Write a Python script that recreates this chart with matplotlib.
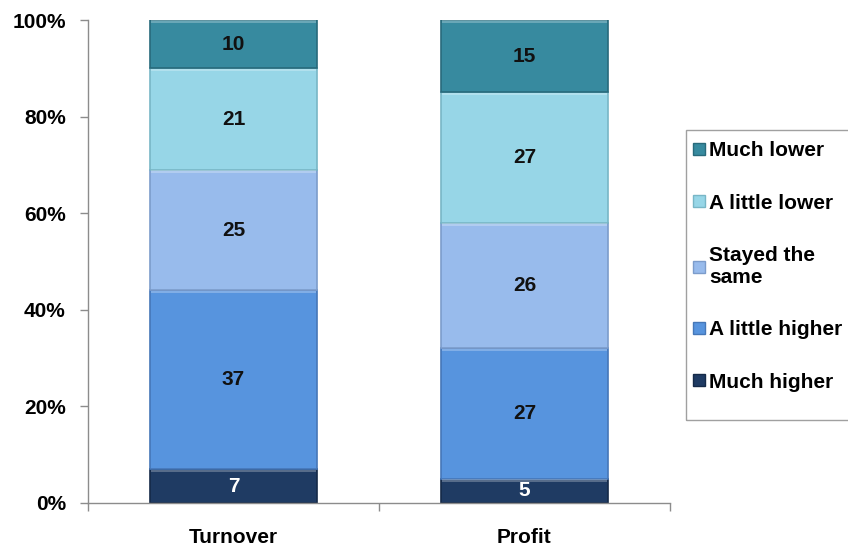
import matplotlib
matplotlib.use("Agg")
import matplotlib.pyplot as plt
from matplotlib.lines import Line2D
from matplotlib.patches import Rectangle
from matplotlib.ticker import FuncFormatter, FixedLocator

plt.rcParams['font.family'] = ['Liberation Sans', 'DejaVu Sans']

categories = ["Turnover", "Profit"]
series_names = ["Much higher", "A little higher", "Stayed the same", "A little lower", "Much lower"]
much_higher = [7, 5]
little_higher = [37, 27]
stayed_same = [25, 26]
little_lower = [21, 27]
much_lower = [10, 15]

values = [much_higher, little_higher, stayed_same, little_lower, much_lower]
colors = ["#1F3B63", "#5794DE", "#98BBEC", "#97D6E7", "#378A9F"]
edge_colors = ["#152A48", "#4577B8", "#7C9CCB", "#78B6C6", "#286A7B"]
text_colors = ["white", "#111111", "#111111", "#111111", "#111111"]
legend_labels = ["Much lower", "A little lower", "Stayed the\nsame", "A little higher", "Much higher"]

FS = 15

fig = plt.figure(figsize=(8.48, 5.48), dpi=100)
ax = fig.add_axes([88/848, 45/548, 582/848, 483/548])

x = list(range(len(categories)))
width = 0.577
bottom = [0.0] * len(categories)
for vals, c, ec, tc in zip(values, colors, edge_colors, text_colors):
    ax.bar(x, vals, width=width, bottom=bottom, color=c, edgecolor=ec, linewidth=1.2, zorder=2)
    # light bevel strip along the top edge of each segment
    ax.bar(x, [0.5] * len(x), width=width * 0.985, bottom=[b + v - 0.6 for b, v in zip(bottom, vals)],
           color="white", alpha=0.25, linewidth=0, zorder=3)
    for xi, b, v in zip(x, bottom, vals):
        ax.text(xi, b + v / 2, str(v), ha="center", va="center", fontsize=FS,
                fontweight="bold", color=tc, zorder=4)
    bottom = [b + v for b, v in zip(bottom, vals)]

ax.set_xlim(-0.5, len(categories) - 0.5)
ax.set_ylim(0, 100)
ax.yaxis.set_major_locator(FixedLocator([0, 20, 40, 60, 80, 100]))
ax.yaxis.set_major_formatter(FuncFormatter(lambda v, p: f"{int(v)}%"))
ax.set_xticks(x)
ax.set_xticklabels(categories, fontsize=FS, fontweight="bold")
ax.xaxis.set_minor_locator(FixedLocator([-0.5, 0.5, 1.5]))
ax.tick_params(axis="x", which="major", length=0, pad=18)
ax.tick_params(axis="x", which="minor", length=6, color="#8C8C8C", width=1)
ax.tick_params(axis="y", length=6, color="#8C8C8C", width=1, pad=10)
for lab in ax.get_yticklabels():
    lab.set_fontsize(FS)
    lab.set_fontweight("bold")

for side in ["top", "right"]:
    ax.spines[side].set_visible(False)
for side in ["left", "bottom"]:
    ax.spines[side].set_color("#8C8C8C")
    ax.spines[side].set_linewidth(1)

# legend frame box
fig.patches.append(Rectangle((686/848, 1 - 420/548), 170/848, 290/548,
                             transform=fig.transFigure, fill=False,
                             edgecolor="#A0A0A0", linewidth=1))

handles = [Line2D([0], [0], marker="s", linestyle="none", markersize=8,
                  markerfacecolor=c, markeredgecolor=ec)
           for c, ec in zip(colors[::-1], edge_colors[::-1])]
leg = fig.legend(handles, legend_labels, loc="upper left",
                 bbox_to_anchor=(680/848, 1 - 132/548), frameon=False,
                 handletextpad=0.05, handlelength=0.9, labelspacing=1.6,
                 borderpad=0.45, borderaxespad=0,
                 prop={"size": FS, "weight": "bold"})

fig.savefig("out.png", dpi=100)
